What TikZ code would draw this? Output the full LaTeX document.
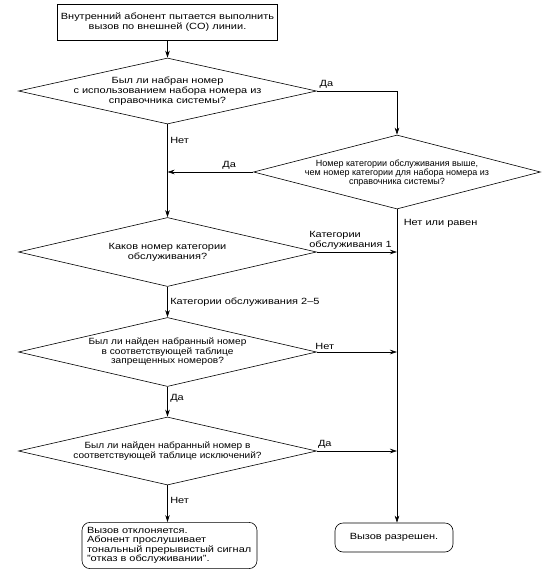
\documentclass[tikz,border=0pt]{standalone}
\usepackage{fontspec}
\setmainfont{Liberation Sans}[FakeStretch=1.22]
\newfontfamily\uzkij{Liberation Sans}
\newfontfamily\srednij{Liberation Sans}[FakeStretch=1.12]
\usetikzlibrary{shapes.geometric,arrows.meta}
\tikzset{
    tekst/.style={font=\fontsize{9}{9.7}\selectfont,align=center,inner sep=0pt},
    metka/.style={font=\fontsize{9}{9.7}\selectfont,inner sep=2.5pt},
    vopros/.style={draw,diamond,inner sep=0pt,minimum width=298pt,minimum height=#1},
    blok/.style={draw,rectangle,font=\fontsize{9}{10}\selectfont,align=center,inner sep=2pt},
    itog/.style={draw,rectangle,rounded corners=8pt,font=\fontsize{9}{9.4}\selectfont,inner sep=5pt}
}
\begin{document}
\begin{tikzpicture}[x=1pt,y=1pt,line width=0.6pt,>={Stealth[length=7pt,width=4.5pt]}]
    \useasboundingbox (0,0) rectangle (549,-571);
    \node [blok,minimum width=220pt,minimum height=36pt] (start) at (167.5,-22)
        {Внутренний абонент пытается выполнить\\вызов по внешней (CO) линии.};
    \node [vopros=66pt] (d1) at (167.5,-91) {};
    \node [tekst] (t1) at (d1) {Был ли набран номер\\с использованием набора номера из\\справочника системы?};
    \node [vopros=74pt,minimum width=287pt] (d2) at (397,-172) {};
    \node [tekst,font=\uzkij\fontsize{9}{8.7}\selectfont] (t2) at ([yshift=-1pt]d2)
        {Номер категории обслуживания выше,\\чем номер категории для набора номера из\\справочника системы?};
    \node [vopros=69pt] (d3) at (167.5,-252) {};
    \node [tekst] (t3) at (d3) {Каков номер категории\\обслуживания?};
    \node [vopros=69pt] (d4) at (167.5,-352) {};
    \node [tekst,font=\srednij\fontsize{9}{9.5}\selectfont] (t4) at (d4)
        {Был ли найден набранный номер\\в соответствующей таблице\\запрещенных номеров?};
    \node [vopros=68pt] (d5) at (167.5,-451) {};
    \node [tekst,font=\srednij\fontsize{9}{9.2}\selectfont] (t5) at (d5)
        {Был ли найден набранный номер в\\соответствующей таблице исключений?};
    \node [itog,text width=165pt,align=left,minimum height=45pt] (otkaz) at (169.5,-545.5)
        {Вызов отклоняется.\\Абонент прослушивает\\тональный прерывистый сигнал\\"отказ в обслуживании".};
    \node [itog,minimum width=118pt,minimum height=29pt] (ok) at (394,-537.5) {Вызов разрешен.};

    \draw [->] (start.south) -- (d1.north);
    \draw [->] (d1.east) -| node [metka,pos=0,above right] {Да} (d2.north);
    \draw [->] (d2.west) -- node [metka,pos=0.28,above] {Да} (d2.west -| d1.south);
    \draw [->] (d1.south) -- node [metka,pos=0.17,right] {Нет} (d3.north);
    \draw [->] (d2.south) -- node [metka,pos=0.045,right,xshift=4pt] {Нет или равен} (d2.south |- ok.north);
    \draw [->] (d3.east) -- node [metka,pos=0.42,above,align=left] {Категории\\обслуживания 1} (d3.east -| d2.south);
    \draw [->] (d3.south) -- node [metka,midway,right] {Категории обслуживания 2--5} (d4.north);
    \draw [->] (d4.south) -- node [metka,pos=0.4,right] {Да} (d5.north);
    \draw [->] (d5.south) -- node [metka,pos=0.4,right] {Нет} (d5.south |- otkaz.north);
    \foreach \d/\t in {d4/Нет,d5/Да} {
        \draw [->] (\d.east) -- node [metka,pos=0.1,above] {\t} (\d.east -| d2.south);
    }
\end{tikzpicture}
\end{document}
